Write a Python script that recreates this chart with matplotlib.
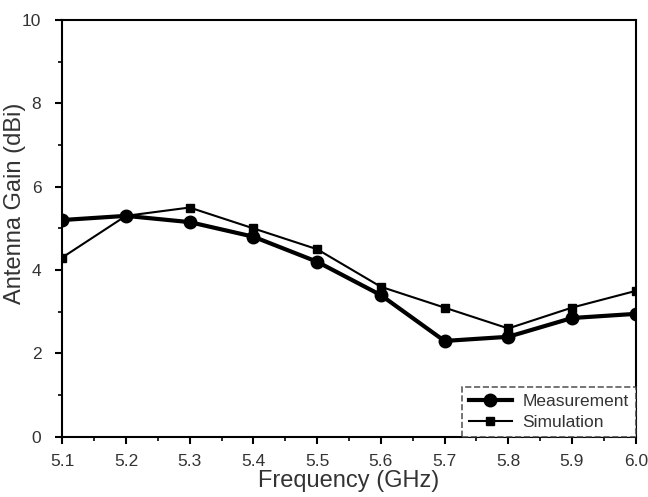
import matplotlib
matplotlib.use("Agg")
import matplotlib.pyplot as plt
from matplotlib.ticker import MultipleLocator

plt.rcParams['font.family'] = ['Liberation Sans', 'DejaVu Sans']

freq = [5.1, 5.2, 5.3, 5.4, 5.5, 5.6, 5.7, 5.8, 5.9, 6.0]
measurement = [5.2, 5.3, 5.15, 4.8, 4.2, 3.4, 2.3, 2.4, 2.85, 2.95]
simulation = [4.3, 5.3, 5.5, 5.0, 4.5, 3.6, 3.1, 2.6, 3.1, 3.5]

fig = plt.figure(figsize=(6.48, 4.97), dpi=100)
ax = fig.add_axes([0.096, 0.121, 0.885, 0.839])

ax.plot(freq, simulation, color='black', lw=1.5, marker='s', ms=6, label='Simulation', zorder=3)
ax.plot(freq, measurement, color='black', lw=3, marker='o', ms=9, label='Measurement', zorder=4)

ax.set_xlim(5.1, 6.0)
ax.set_ylim(0, 10)
ax.xaxis.set_major_locator(MultipleLocator(0.1))
ax.xaxis.set_minor_locator(MultipleLocator(0.05))
ax.yaxis.set_major_locator(MultipleLocator(2))
ax.yaxis.set_minor_locator(MultipleLocator(1))
ax.set_xticklabels([f"{v:.1f}" for v in ax.get_xticks()])
ax.tick_params(which='major', direction='out', length=5, width=1.5, labelsize=12.5,
               labelcolor='#333333')
ax.tick_params(which='minor', direction='out', length=3, width=1.2)
ax.tick_params(axis='x', which='major', pad=7)
ax.tick_params(axis='y', which='major', pad=10)
ax.tick_params(top=False, right=False)
for s in ax.spines.values():
    s.set_linewidth(1.5)

ax.set_xlabel('Frequency (GHz)', fontsize=17, color='#333333', labelpad=1)
ax.set_ylabel('Antenna Gain (dBi)', fontsize=17, color='#333333')
ax.yaxis.set_label_coords(-0.064, 0.56)

handles, labels = ax.get_legend_handles_labels()
leg = ax.legend(handles[::-1], labels[::-1], loc='lower right', fontsize=12.5,
                frameon=True, fancybox=False, borderaxespad=0, handlelength=2.5,
                borderpad=0.4, labelspacing=0.35, handletextpad=0.6)
frame = leg.get_frame()
frame.set_edgecolor('#333333')
frame.set_linestyle('--')
frame.set_linewidth(1.2)
for t in leg.get_texts():
    t.set_color('#333333')

fig.savefig('out.png', dpi=100)
